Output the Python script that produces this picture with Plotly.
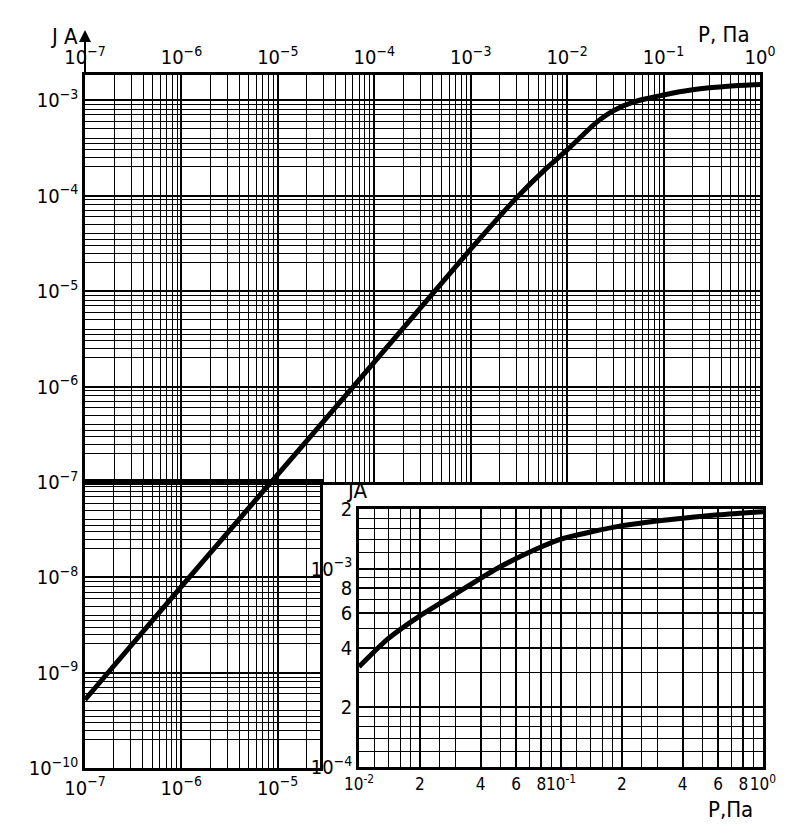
import plotly.graph_objects as go

# ---------------- data ----------------
main_p = [1e-7, 1e-6, 1e-5, 1e-4, 1e-3, 3e-3, 6e-3, 1e-2, 2e-2, 3e-2, 5e-2, 1e-1, 2e-1, 5e-1, 1.0]
main_i = [5.2e-10, 8e-9, 1.2e-7, 1.8e-6, 2.75e-5, 9.5e-5, 1.9e-4, 3.0e-4, 5.8e-4, 7.7e-4,
          9.6e-4, 1.13e-3, 1.28e-3, 1.40e-3, 1.45e-3]

inset_p = [0.01, 0.0138, 0.0196, 0.029, 0.048, 0.076, 0.1, 0.195, 0.35, 0.6, 1.0]
inset_i = [3.2e-4, 4.4e-4, 5.7e-4, 7.3e-4, 1.0e-3, 1.26e-3, 1.41e-3, 1.64e-3, 1.77e-3, 1.87e-3, 1.94e-3]

main_x_ticks = [1e-7, 1e-6, 1e-5, 1e-4, 1e-3, 1e-2, 1e-1, 1.0]
main_x_text = ["10<sup>−7</sup>", "10<sup>−6</sup>", "10<sup>−5</sup>", "10<sup>−4</sup>",
               "10<sup>−3</sup>", "10<sup>−2</sup>", "10<sup>−1</sup>", "10<sup>0</sup>"]
low_x_ticks = [1e-7, 1e-6, 1e-5]
low_x_text = ["10<sup>−7</sup>", "10<sup>−6</sup>", "10<sup>−5</sup>"]
up_y_ticks = [1e-7, 1e-6, 1e-5, 1e-4, 1e-3]
up_y_text = ["10<sup>−7</sup>", "10<sup>−6</sup>", "10<sup>−5</sup>", "10<sup>−4</sup>", "10<sup>−3</sup>"]
low_y_ticks = [1e-10, 1e-9, 1e-8]
low_y_text = ["10<sup>−10</sup>", "10<sup>−9</sup>", "10<sup>−8</sup>"]

inset_x_ticks = [1e-2, 2e-2, 4e-2, 6e-2, 8e-2, 1e-1, 2e-1, 4e-1, 6e-1, 8e-1, 1.0]
inset_x_text = ["10<sup>-2</sup>", "2", "4", "6", "8", "10<sup>-1</sup>", "2", "4", "6", "8", "10<sup>0</sup>"]
inset_y_ticks = [1e-4, 2e-4, 4e-4, 6e-4, 8e-4, 1e-3, 2e-3]
inset_y_text = ["10<sup>−4</sup>", "2", "4", "6", "8", "10<sup>−3</sup>", "2"]

# ---------------- grid helpers (graph-paper lines) ----------------
def minor_vals(lo, hi, mults):
    out = []
    for e in range(lo, hi + 1):
        for m in mults:
            out.append(m * 10.0 ** e)
    return out

x_minor_main = minor_vals(-7, -1, [2, 3, 4, 5, 6, 7, 8, 9])
y_minor_main = minor_vals(-10, -3, [2, 2.5, 3, 3.5, 4, 5, 6, 7, 8, 9])
x_minor_inset = minor_vals(-2, -1, [1.2, 1.4, 1.6, 1.8, 2, 2.5, 3, 4, 5, 6, 7, 8, 9])
y_minor_inset = minor_vals(-4, -3, [1.2, 1.4, 1.6, 1.8]) + minor_vals(-4, -4, [3, 5, 6, 7, 8, 9])

# page body adds an 8px margin; work in reference pixel coords and shift
OFF = 8
W, H = 787, 829
FONT = "DejaVu Sans Condensed, Liberation Sans Narrow, Arial Narrow, sans-serif"

def px_x(p):
    return (p - OFF) / W

def px_y(p):
    return 1 - (p - OFF) / H

fig = go.Figure()
line_style = dict(color="black", width=5, shape="spline", smoothing=0.6)
fig.add_trace(go.Scatter(x=main_p, y=main_i, mode="lines", line=line_style, xaxis="x", yaxis="y",
                         showlegend=False, hoverinfo="skip"))
fig.add_trace(go.Scatter(x=main_p, y=main_i, mode="lines", line=line_style, xaxis="x2", yaxis="y2",
                         showlegend=False, hoverinfo="skip"))
fig.add_trace(go.Scatter(x=inset_p, y=inset_i, mode="lines", line=line_style, xaxis="x3", yaxis="y3",
                         showlegend=False, hoverinfo="skip"))

def axis(rng, dom, anchor, tv, tt, minor, side=None, size=20):
    d = dict(type="log", range=rng, domain=dom, anchor=anchor,
             tickmode="array", tickvals=tv, ticktext=tt, tickangle=0,
             showgrid=True, gridcolor="black", gridwidth=2,
             minor=dict(tickvals=minor, showgrid=True, gridcolor="black", gridwidth=1.2, ticks=""),
             showline=True, mirror=True, linecolor="black", linewidth=2.5,
             ticks="", zeroline=False, automargin=False,
             tickfont=dict(family=FONT, size=size, color="black"))
    if side:
        d["side"] = side
    return d

ytop = -2.738
fig.update_layout(
    width=W, height=H,
    margin=dict(l=0, r=0, t=0, b=0),
    paper_bgcolor="white", plot_bgcolor="white",
    template="none",
    xaxis=axis([-7, 0], [px_x(85), px_x(760)], "y", main_x_ticks, main_x_text, x_minor_main, side="top"),
    yaxis=axis([-7, ytop], [px_y(482), px_y(75)], "x", up_y_ticks, up_y_text, y_minor_main),
    xaxis2=axis([-7, -4.56], [px_x(85), px_x(320)], "y2", low_x_ticks, low_x_text, x_minor_main, side="bottom"),
    yaxis2=axis([-10, -7], [px_y(768), px_y(482)], "x2", low_y_ticks, low_y_text, y_minor_main),
    xaxis3=axis([-2, 0], [px_x(359), px_x(763)], "y3", inset_x_ticks, inset_x_text, x_minor_inset,
                side="bottom", size=17),
    yaxis3=axis([-4, -2.699], [px_y(767), px_y(509)], "x3", inset_y_ticks, inset_y_text, y_minor_inset,
                size=20),
)

ann_font = dict(family=FONT, size=22, color="black")
fig.add_annotation(x=px_x(48), y=px_y(22), xref="paper", yref="paper", text="J A",
                   showarrow=False, font=ann_font)
fig.add_annotation(x=px_x(752), y=px_y(20), xref="paper", yref="paper", text="P, Па",
                   showarrow=False, font=ann_font)
fig.add_annotation(x=px_x(356), y=px_y(490), xref="paper", yref="paper", text="JA",
                   showarrow=False, font=ann_font)
fig.add_annotation(x=px_x(755), y=px_y(824), xref="paper", yref="paper", text="P,Па",
                   showarrow=False, font=ann_font)
# axis arrow above the main y axis
fig.add_annotation(x=px_x(85), y=px_y(30), xref="paper", yref="paper", text="",
                   showarrow=True, ax=0, ay=46, arrowhead=2, arrowsize=1.2,
                   arrowwidth=2, arrowcolor="black")

fig.write_html("out.html")
